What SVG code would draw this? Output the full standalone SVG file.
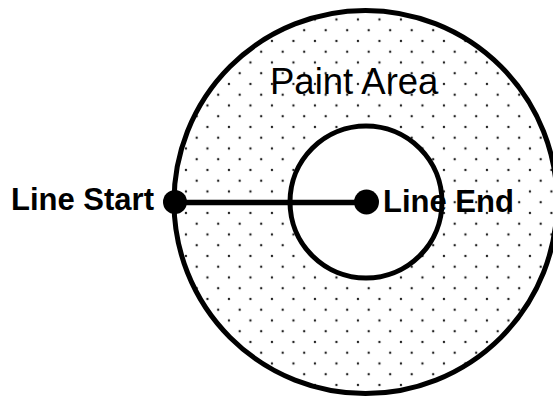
<svg xmlns="http://www.w3.org/2000/svg" width="553" height="398" viewBox="0 0 553 398">
  <defs>
    <pattern id="dots" patternUnits="userSpaceOnUse" x="3.2" y="8.7" width="21.5" height="21.5">
      <circle cx="0" cy="0" r="1.2" fill="#222"/>
      <circle cx="21.5" cy="0" r="1.2" fill="#222"/>
      <circle cx="0" cy="21.5" r="1.2" fill="#222"/>
      <circle cx="21.5" cy="21.5" r="1.2" fill="#222"/>
      <circle cx="10.75" cy="10.75" r="1.2" fill="#222"/>
    </pattern>
  </defs>
  <style>
    .ring { stroke: #000; stroke-width: 5; }
    .dot { fill: #000; }
    .lbl { font-family: "Liberation Sans", Arial, sans-serif; fill: #000; }
    .bold { font-weight: bold; font-size: 31px; }
  </style>
  <rect width="553" height="398" fill="#fff"/>
  <g id="paint-area">
    <circle class="ring" cx="365.5" cy="202" r="191.5" fill="url(#dots)"/>
    <text class="lbl" x="270" y="94" font-size="36.5">Paint Area</text>
  </g>
  <g id="inner-circle">
    <circle class="ring" cx="366" cy="202" r="76" fill="#fff"/>
  </g>
  <g id="connectors">
    <line x1="175" y1="202.5" x2="366" y2="202.5" stroke="#000" stroke-width="5.5"/>
  </g>
  <g id="line-start">
    <circle class="dot" cx="175" cy="202" r="12"/>
    <text class="lbl bold" x="11" y="209.5">Line Start</text>
  </g>
  <g id="line-end">
    <circle class="dot" cx="366.5" cy="202" r="12.5"/>
    <text class="lbl bold" x="383" y="212">Line End</text>
  </g>
</svg>
